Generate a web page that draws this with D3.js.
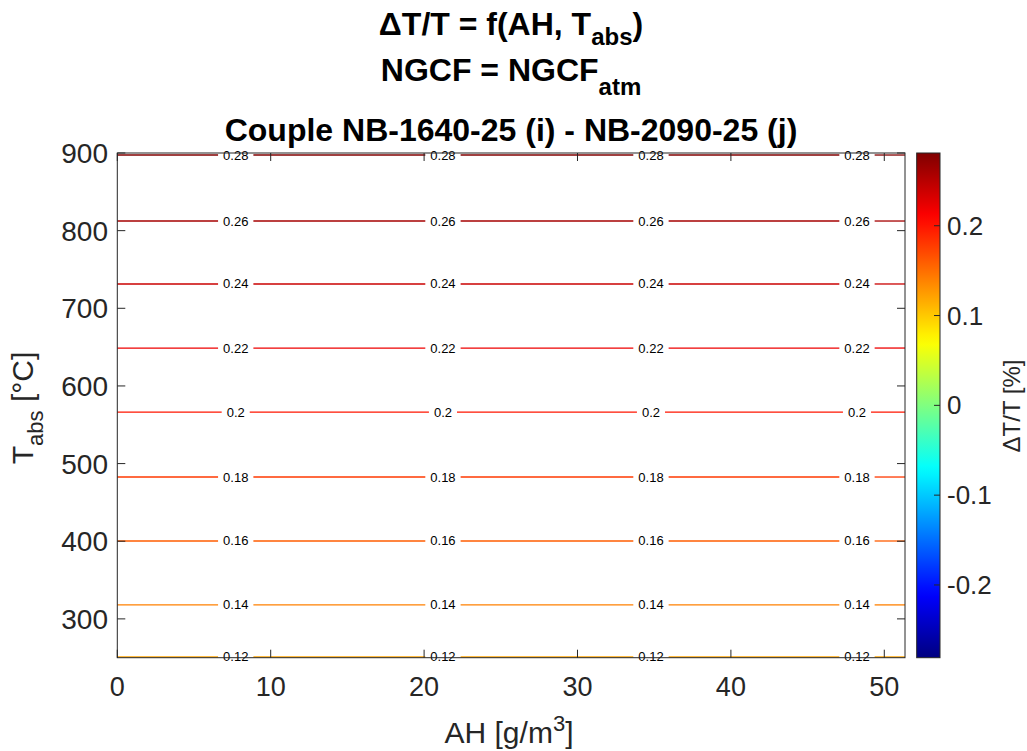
<!DOCTYPE html>
<html>
<head>
<meta charset="utf-8">
<script src="https://cdn.jsdelivr.net/npm/d3@7/dist/d3.min.js"></script>
<style>
  html, body { margin: 0; padding: 0; background: #fff; }
  svg { display: block; font-family: "Liberation Sans", Arial, Helvetica, sans-serif; }
</style>
</head>
<body>
<svg id="chart" width="1027" height="751"></svg>
<script>
// Contour levels of ΔT/T [%] and the absolute temperature [°C] where each level sits
const levels = [0.12, 0.14, 0.16, 0.18, 0.20, 0.22, 0.24, 0.26, 0.28];
const levelTemps = [251, 318, 400.3, 482.7, 566.4, 648.8, 731.3, 812.4, 897.4];
// AH positions [g/m3] of the inline contour labels
const labelAH = [7.72, 21.23, 34.79, 48.22];
// Axis ticks
const xTicks = [0, 10, 20, 30, 40, 50];
const yTicks = [300, 400, 500, 600, 700, 800, 900];
const cbTicks = [-0.2, -0.1, 0, 0.1, 0.2];
// Domains
const ahRange = [0, 51.35];
const tRange = [250, 900];
const colorLimits = [-0.281, 0.281];

const svg = d3.select("#chart");
const axisColor = "#262626";

const plot = { left: 117.3, right: 905, top: 153, bottom: 657.7 };
const x = d3.scaleLinear().domain(ahRange).range([plot.left, plot.right]);
const y = d3.scaleLinear().domain(tRange).range([plot.bottom, plot.top]);

// MATLAB-style jet colormap
function jet(t) {
  const c = v => Math.max(0, Math.min(1, v));
  const r = c(1.5 - Math.abs(4 * t - 3));
  const g = c(1.5 - Math.abs(4 * t - 2));
  const b = c(1.5 - Math.abs(4 * t - 1));
  return d3.rgb(r * 255, g * 255, b * 255).formatHex();
}
const colorNorm = d3.scaleLinear().domain(colorLimits).range([0, 1]).clamp(true);
const color = v => jet(colorNorm(v));

// ---- Titles ----
const title = svg.append("g").attr("font-weight", "bold").attr("fill", "#000")
  .attr("font-size", 32).attr("text-anchor", "middle");
const t1 = title.append("text").attr("x", 511).attr("y", 35);
t1.append("tspan").text("ΔT/T = f(AH, T");
t1.append("tspan").attr("dy", 10).attr("font-size", 24).text("abs");
t1.append("tspan").attr("dy", -10).text(")");
const t2 = title.append("text").attr("x", 511).attr("y", 81);
t2.append("tspan").text("NGCF = NGCF");
t2.append("tspan").attr("dy", 14).attr("font-size", 24).text("atm");
title.append("text").attr("x", 511).attr("y", 141)
  .text("Couple NB-1640-25 (i) - NB-2090-25 (j)");

// ---- Contour lines with inline labels ----
const contours = svg.append("g");
levels.forEach((lv, i) => {
  const yy = y(levelTemps[i]);
  const stroke = color(lv);
  const lbl = d3.format("")(+lv.toFixed(2));
  const gaps = labelAH.map(a => {
    const tx = contours.append("text")
      .attr("x", x(a)).attr("y", yy)
      .attr("font-size", 13).attr("text-anchor", "middle")
      .attr("dominant-baseline", "central").attr("fill", "#000")
      .text(lbl);
    const w = tx.node().getComputedTextLength();
    return [x(a) - w / 2 - 5, x(a) + w / 2 + 5];
  });
  let start = plot.left;
  const segs = [];
  gaps.forEach(g => { segs.push([start, g[0]]); start = g[1]; });
  segs.push([start, plot.right]);
  contours.selectAll(null).data(segs).enter().insert("line", "text")
    .attr("x1", d => d[0]).attr("x2", d => d[1])
    .attr("y1", yy).attr("y2", yy)
    .attr("stroke", stroke).attr("stroke-width", 1.3);
});

// ---- Axes box and ticks ----
const axes = svg.append("g").attr("stroke", axisColor).attr("fill", "none");
axes.append("rect")
  .attr("x", plot.left).attr("y", plot.top)
  .attr("width", plot.right - plot.left).attr("height", plot.bottom - plot.top)
  .attr("stroke-width", 1);
const tl = 8;
xTicks.forEach(v => {
  axes.append("line").attr("x1", x(v)).attr("x2", x(v)).attr("y1", plot.bottom).attr("y2", plot.bottom - tl);
  axes.append("line").attr("x1", x(v)).attr("x2", x(v)).attr("y1", plot.top).attr("y2", plot.top + tl);
});
yTicks.forEach(v => {
  axes.append("line").attr("y1", y(v)).attr("y2", y(v)).attr("x1", plot.left).attr("x2", plot.left + tl);
  axes.append("line").attr("y1", y(v)).attr("y2", y(v)).attr("x1", plot.right).attr("x2", plot.right - tl);
});

const labels = svg.append("g").attr("fill", axisColor).attr("font-size", 27);
labels.selectAll(".xt").data(xTicks).enter().append("text")
  .attr("x", d => x(d)).attr("y", 696).attr("text-anchor", "middle").text(d => d);
labels.selectAll(".yt").data(yTicks).enter().append("text")
  .attr("x", 108).attr("y", d => y(d) + 10).attr("font-size", 28)
  .attr("text-anchor", "end").text(d => d);

// Axis titles
const xl = labels.append("text").attr("x", 509).attr("y", 743)
  .attr("text-anchor", "middle").attr("font-size", 30);
xl.append("tspan").text("AH [g/m");
xl.append("tspan").attr("dy", -12).attr("font-size", 22).text("3");
xl.append("tspan").attr("dy", 12).text("]");

const yl = labels.append("text")
  .attr("transform", `translate(33, 408) rotate(-90)`)
  .attr("text-anchor", "middle").attr("font-size", 30);
yl.append("tspan").text("T");
yl.append("tspan").attr("dy", 10).attr("font-size", 22).text("abs");
yl.append("tspan").attr("dy", -10).text(" [°C]");

// ---- Colorbar ----
const cb = { left: 916.7, right: 940, top: plot.top, bottom: plot.bottom };
const cy = d3.scaleLinear().domain(colorLimits).range([cb.bottom, cb.top]);
const defs = svg.append("defs");
const grad = defs.append("linearGradient").attr("id", "jetGrad")
  .attr("x1", 0).attr("y1", 1).attr("x2", 0).attr("y2", 0);
d3.range(0, 1.0001, 0.02).forEach(t => {
  grad.append("stop").attr("offset", t).attr("stop-color", jet(t));
});
svg.append("rect").attr("x", cb.left).attr("y", cb.top)
  .attr("width", cb.right - cb.left).attr("height", cb.bottom - cb.top)
  .attr("fill", "url(#jetGrad)").attr("stroke", axisColor).attr("stroke-width", 1);
const cbG = svg.append("g");
cbTicks.forEach(v => {
  cbG.append("line").attr("x1", cb.right).attr("x2", cb.right - 6)
    .attr("y1", cy(v)).attr("y2", cy(v)).attr("stroke", axisColor);
  cbG.append("text").attr("x", cb.right + 7).attr("y", cy(v)).attr("dy", "0.35em")
    .attr("font-size", 26).attr("fill", axisColor).text(v);
});
cbG.append("text")
  .attr("transform", `translate(1020, 406) rotate(-90)`)
  .attr("text-anchor", "middle").attr("font-size", 24).attr("fill", axisColor)
  .text("ΔT/T [%]");
</script>
</body>
</html>
